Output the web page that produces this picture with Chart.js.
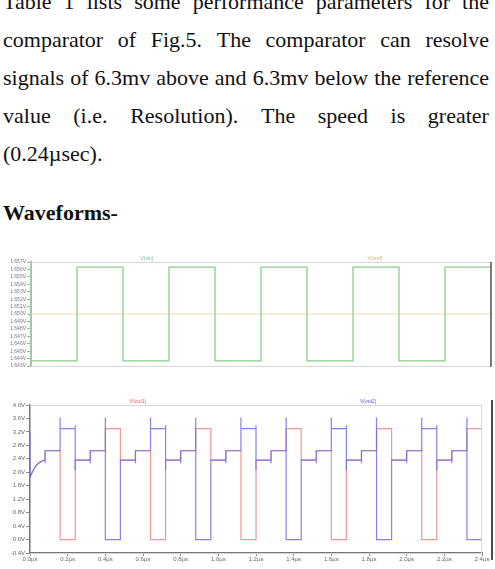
<!DOCTYPE html>
<html>
<head>
<meta charset="utf-8">
<script src="https://cdn.jsdelivr.net/npm/chart.js@4/dist/chart.umd.min.js"></script>
<style>
  html, body { margin:0; padding:0; background:#fff; width:495px; height:569px; overflow:hidden; }
  #para { position:absolute; left:3px; top:-17px; width:486px; font-family:'Liberation Serif','Times New Roman',serif; font-size:22px; line-height:38.07px; color:#111; }
  .j { display:flex; justify-content:space-between; white-space:nowrap; }
  #head { position:absolute; left:3px; top:193.5px; font-family:'Liberation Serif','Times New Roman',serif; font-size:22px; line-height:38.07px; font-weight:bold; color:#111; white-space:nowrap; }
  canvas { position:absolute; left:0; }
</style>
</head>
<body>
<div id="para">
  <div class="j"><span>Table</span><span>1</span><span>lists</span><span>some</span><span>performance</span><span>parameters</span><span>for</span><span>the</span></div>
  <div class="j"><span>comparator</span><span>of</span><span>Fig.5.</span><span>The</span><span>comparator</span><span>can</span><span>resolve</span></div>
  <div class="j"><span>signals</span><span>of</span><span>6.3mv</span><span>above</span><span>and</span><span>6.3mv</span><span>below</span><span>the</span><span>reference</span></div>
  <div class="j"><span>value</span><span>(i.e.</span><span>Resolution).</span><span>The</span><span>speed</span><span>is</span><span>greater</span></div>
  <div>(0.24µsec).</div>
</div>
<div id="head">Waveforms-</div>
<canvas id="c1" width="495" height="124" style="top:248px;width:495px;height:124px"></canvas>
<canvas id="c2" width="495" height="174" style="top:395px;width:495px;height:174px"></canvas>
<script>
// ---------- DATA ----------
// Top chart (input vs reference)
const topTickValues = [1.643,1.644,1.645,1.646,1.647,1.648,1.649,1.650,1.651,1.652,1.653,1.654,1.655,1.656,1.657];
const topTickLabels = ['1.643V','1.644V','1.645V','1.646V','1.647V','1.648V','1.649V','1.650V','1.651V','1.652V','1.653V','1.654V','1.655V','1.656V','1.657V'];
const inputTime = [0,0.24,0.24,0.48,0.48,0.72,0.72,0.96,0.96,1.20,1.20,1.44,1.44,1.68,1.68,1.92,1.92,2.16,2.16,2.40];
const inputVolt = [1.6437,1.6437,1.6563,1.6563,1.6437,1.6437,1.6563,1.6563,1.6437,1.6437,1.6563,1.6563,1.6437,1.6437,1.6563,1.6563,1.6437,1.6437,1.6563,1.6563];
const refTime = [0,2.40];
const refVolt = [1.650,1.650];
const topSeriesNames = ['V(vin)','V(vref)'];

// Bottom chart (comparator outputs)
const xTickValues = [0,0.2,0.4,0.6,0.8,1.0,1.2,1.4,1.6,1.8,2.0,2.2,2.4];
const xTickLabels = ['0.0µs','0.2µs','0.4µs','0.6µs','0.8µs','1.0µs','1.2µs','1.4µs','1.6µs','1.8µs','2.0µs','2.2µs','2.4µs'];
const yTickValues = [-0.4,0,0.4,0.8,1.2,1.6,2.0,2.4,2.8,3.2,3.6,4.0];
const yTickLabels = ['-0.4V','0.0V','0.4V','0.8V','1.2V','1.6V','2.0V','2.4V','2.8V','3.2V','3.6V','4.0V'];
const bottomSeriesNames = ['V(out1)','V(out2)'];

const out2Time = [
0,0,0.01,0.02,0.03,0.04,0.05,0.06,0.07,0.08,0.08,0.08,0.16,
0.16,0.16,0.24,0.24,0.24,0.24,0.32,0.32,0.32,0.40,
0.40,0.40,0.48,0.48,0.56,0.56,0.56,0.64,
0.64,0.64,0.72,0.72,0.72,0.72,0.80,0.80,0.80,0.88,
0.88,0.88,0.96,0.96,1.04,1.04,1.04,1.12,
1.12,1.12,1.20,1.20,1.20,1.20,1.28,1.28,1.28,1.36,
1.36,1.36,1.44,1.44,1.52,1.52,1.52,1.60,
1.60,1.60,1.68,1.68,1.68,1.68,1.76,1.76,1.76,1.84,
1.84,1.84,1.92,1.92,2.00,2.00,2.00,2.08,
2.08,2.08,2.16,2.16,2.16,2.16,2.24,2.24,2.24,2.32,
2.32,2.32,2.40];
const out2Volt = [
3.2,1.85,1.98,2.09,2.18,2.24,2.29,2.32,2.35,2.36,2.27,2.64,2.64,
3.63,3.3,3.3,3.4,2.06,2.36,2.36,2.27,2.64,2.64,
3.63,0,0,2.36,2.36,2.27,2.64,2.64,
3.63,3.3,3.3,3.4,2.06,2.36,2.36,2.27,2.64,2.64,
3.63,0,0,2.36,2.36,2.27,2.64,2.64,
3.63,3.3,3.3,3.4,2.06,2.36,2.36,2.27,2.64,2.64,
3.63,0,0,2.36,2.36,2.27,2.64,2.64,
3.63,3.3,3.3,3.4,2.06,2.36,2.36,2.27,2.64,2.64,
3.63,0,0,2.36,2.36,2.27,2.64,2.64,
3.63,3.3,3.3,3.4,2.06,2.36,2.36,2.27,2.64,2.64,
3.63,0,0];

const out1Time = [
0,0.01,0.02,0.03,0.04,0.05,0.06,0.07,0.08,0.08,0.16,
0.16,0.24,0.24,0.32,0.32,0.40,
0.40,0.48,0.48,0.56,0.56,0.64,
0.64,0.72,0.72,0.80,0.80,0.88,
0.88,0.96,0.96,1.04,1.04,1.12,
1.12,1.20,1.20,1.28,1.28,1.36,
1.36,1.44,1.44,1.52,1.52,1.60,
1.60,1.68,1.68,1.76,1.76,1.84,
1.84,1.92,1.92,2.00,2.00,2.08,
2.08,2.16,2.16,2.24,2.24,2.32,
2.32,2.40];
const out1Volt = [
1.85,1.98,2.09,2.18,2.24,2.29,2.32,2.35,2.36,2.64,2.64,
0,0,2.36,2.36,2.64,2.64,
3.3,3.3,2.36,2.36,2.64,2.64,
0,0,2.36,2.36,2.64,2.64,
3.3,3.3,2.36,2.36,2.64,2.64,
0,0,2.36,2.36,2.64,2.64,
3.3,3.3,2.36,2.36,2.64,2.64,
0,0,2.36,2.36,2.64,2.64,
3.3,3.3,2.36,2.36,2.64,2.64,
0,0,2.36,2.36,2.64,2.64,
3.3,3.3];

// ---------- HELPERS ----------
const pts = (ts, vs) => ts.map((t, i) => ({x: t, y: vs[i]}));

const framePlugin = {
  id: 'frame',
  afterDraw(chart, args, opts) {
    const {ctx, chartArea: a} = chart;
    ctx.save();
    ctx.strokeStyle = '#d6d6d6';
    ctx.lineWidth = 1;
    ctx.beginPath();
    ctx.moveTo(a.left, a.top + 0.5); ctx.lineTo(a.right, a.top + 0.5);
    ctx.moveTo(a.left, a.bottom + 0.5); ctx.lineTo(a.right, a.bottom + 0.5);
    ctx.moveTo(a.right - 0.5, a.top); ctx.lineTo(a.right - 0.5, a.bottom);
    ctx.stroke();
    if (opts.rightColor) {
      ctx.strokeStyle = opts.rightColor;
      ctx.lineWidth = 1.5;
      ctx.beginPath();
      ctx.moveTo(a.right, a.top); ctx.lineTo(a.right, a.bottom + 1);
      ctx.stroke();
    }
    if (opts.barX) {
      ctx.strokeStyle = '#111';
      ctx.lineWidth = 1.5;
      ctx.beginPath();
      ctx.moveTo(opts.barX, opts.barTop); ctx.lineTo(opts.barX, opts.barBottom);
      ctx.stroke();
    }
    ctx.font = '5px "Liberation Sans", sans-serif';
    ctx.textAlign = 'center';
    ctx.textBaseline = 'middle';
    (opts.labels || []).forEach(l => {
      ctx.fillStyle = l.color;
      ctx.fillText(l.text, a.left + l.frac * (a.right - a.left), opts.labelY);
    });
    ctx.restore();
  }
};

// ---------- TOP CHART ----------
new Chart(document.getElementById('c1'), {
  type: 'line',
  data: {
    datasets: [
      { label: topSeriesNames[0], data: pts(inputTime, inputVolt), borderColor: 'rgb(140,206,140)', borderWidth: 1.3, pointRadius: 0, tension: 0 },
      { label: topSeriesNames[1], data: pts(refTime, refVolt), borderColor: 'rgb(246,214,178)', borderWidth: 1, pointRadius: 0, tension: 0 }
    ]
  },
  options: {
    responsive: false, animation: false, devicePixelRatio: 1, events: [],
    layout: { padding: { top: 14, bottom: 6, left: 0, right: 4 } },
    plugins: {
      legend: { display: false }, tooltip: { enabled: false },
      frame: { rightColor: '#555', labelY: 11, labels: [
        { text: topSeriesNames[0], color: 'rgb(120,190,165)', frac: 0.252 },
        { text: topSeriesNames[1], color: 'rgb(210,180,120)', frac: 0.748 } ] }
    },
    scales: {
      x: { type: 'linear', min: 0, max: 2.4, display: false },
      y: {
        min: 1.643, max: 1.657,
        afterFit(s) { s.width = 31; },
        afterBuildTicks(s) { s.ticks = topTickValues.map(v => ({ value: v })); },
        ticks: { autoSkip: false, padding: 1, color: '#777', font: { size: 5, family: 'Liberation Sans' },
                 callback: (v, i) => topTickLabels[i] },
        grid: { drawOnChartArea: false, tickLength: 4, color: '#aaa' },
        border: { color: '#a3c6a3', width: 2 }
      }
    }
  },
  plugins: [framePlugin]
});

// ---------- BOTTOM CHART ----------
new Chart(document.getElementById('c2'), {
  type: 'line',
  data: {
    datasets: [
      { label: bottomSeriesNames[1], data: pts(out2Time, out2Volt), borderColor: 'rgba(100,100,236,0.8)', borderWidth: 1.2, pointRadius: 0, tension: 0 },
      { label: bottomSeriesNames[0], data: pts(out1Time, out1Volt), borderColor: 'rgba(240,115,115,0.75)', borderWidth: 1.2, pointRadius: 0, tension: 0 }
    ]
  },
  options: {
    responsive: false, animation: false, devicePixelRatio: 1, events: [],
    layout: { padding: { top: 10, bottom: 0, left: 0, right: 13 } },
    plugins: {
      legend: { display: false }, tooltip: { enabled: false },
      frame: { barX: 492, barTop: 5, barBottom: 165, labelY: 7, labels: [
        { text: bottomSeriesNames[0], color: 'rgb(236,90,90)', frac: 0.239 },
        { text: bottomSeriesNames[1], color: 'rgb(90,90,236)', frac: 0.748 } ] }
    },
    scales: {
      x: {
        type: 'linear', min: 0, max: 2.4,
        afterFit(s) { s.height = 16; },
        afterBuildTicks(s) { s.ticks = xTickValues.map(v => ({ value: v })); },
        ticks: { autoSkip: false, maxRotation: 0, padding: 0, color: '#666', font: { size: 6, family: 'Liberation Sans' },
                 callback: (v, i) => xTickLabels[i] },
        grid: { drawOnChartArea: false, tickLength: 3, color: '#888' },
        border: { color: '#777', width: 1.5 }
      },
      y: {
        min: -0.4, max: 4.0,
        afterFit(s) { s.width = 30; },
        afterBuildTicks(s) { s.ticks = yTickValues.map(v => ({ value: v })); },
        ticks: { autoSkip: false, padding: 1, color: '#666', font: { size: 6, family: 'Liberation Sans' },
                 callback: (v, i) => yTickLabels[i] },
        grid: { drawOnChartArea: false, tickLength: 4, color: '#888' },
        border: { color: '#777', width: 1.5 }
      }
    }
  },
  plugins: [framePlugin]
});
</script>
</body>
</html>
